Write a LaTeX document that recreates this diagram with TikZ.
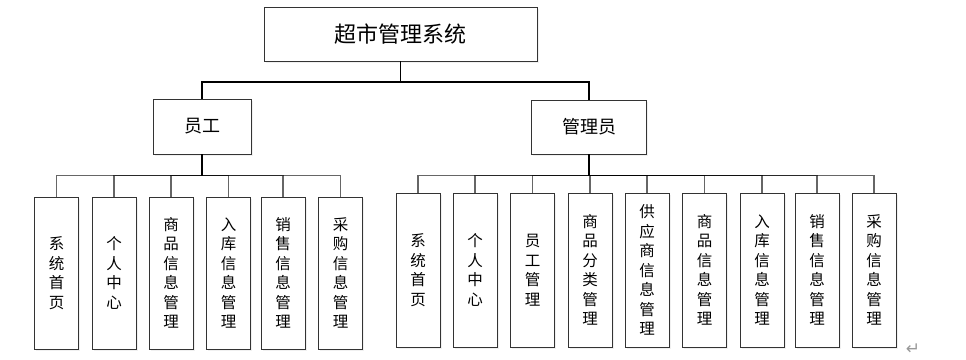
\documentclass[tikz,border=0pt]{standalone}
\usepackage{fontspec}
\setmainfont{Noto Sans CJK SC}
\newfontfamily\symf{DejaVu Sans}
\usetikzlibrary{shadows}
\begin{document}
\begin{tikzpicture}[x=1pt,y=-1pt,
  box/.style={draw=black!80, line width=0.8pt, fill=white, inner sep=0pt,
    drop shadow={opacity=0.12, shadow xshift=1.5pt, shadow yshift=-1.5pt}},
  mid/.style={box, font=\fontsize{18}{20}\selectfont},
  leafe/.style={box, minimum width=44pt, minimum height=152pt, align=center, font=\fontsize{15.5}{19.5}\selectfont},
  leafa/.style={box, minimum width=44pt, minimum height=154pt, align=center, font=\fontsize{15.5}{19.5}\selectfont},
  toplink/.style={draw=black, line width=1.6pt},
  sublink/.style={draw=black, draw opacity=0.6, line width=1.1pt}]
\useasboundingbox (0,0) rectangle (966,359);

% root and second level
\node[box, minimum width=273pt, minimum height=54pt, font=\fontsize{22}{24}\selectfont] (root) at (400.5,34) {超市管理系统};
\node[mid, minimum width=98pt, minimum height=55pt] (emp) at (202,126.5) {员工};
\node[mid, minimum width=115pt, minimum height=54pt] (adm) at (589,127) {管理员};

% employee leaves
\node[leafe] (e1) at (56.5,273) {系\\统\\首\\页};
\node[leafe] (e2) at (114,273) {个\\人\\中\\心};
\node[leafe] (e3) at (171,273) {商\\品\\信\\息\\管\\理};
\node[leafe] (e4) at (228.5,273) {入\\库\\信\\息\\管\\理};
\node[leafe] (e5) at (283,273) {销\\售\\信\\息\\管\\理};
\node[leafe] (e6) at (340.5,273) {采\\购\\信\\息\\管\\理};

% admin leaves
\node[leafa] (a1) at (418,270) {系\\统\\首\\页};
\node[leafa] (a2) at (475,270) {个\\人\\中\\心};
\node[leafa] (a3) at (532.5,270) {员\\工\\管\\理};
\node[leafa] (a4) at (590,270) {商\\品\\分\\类\\管\\理};
\node[leafa] (a5) at (647,270) {供\\应\\商\\信\\息\\管\\理};
\node[leafa] (a6) at (704.5,270) {商\\品\\信\\息\\管\\理};
\node[leafa] (a7) at (762,270) {入\\库\\信\\息\\管\\理};
\node[leafa] (a8) at (817,270) {销\\售\\信\\息\\管\\理};
\node[leafa] (a9) at (874,270) {采\\购\\信\\息\\管\\理};

% connectors
\draw[toplink] (root.south) -- ++(0,20.5) -| (emp.north);
\draw[toplink] (root.south) -- ++(0,20.5) -| (adm.north);
\foreach \c in {e1,e2,e3,e4,e5,e6}
  \draw[sublink] (emp.south) -- ++(0,21) -| (\c.north);
\foreach \c in {a1,a2,a3,a4,a5,a6,a7,a8,a9}
  \draw[sublink] (adm.south) -- ++(0,21) -| (\c.north);

% paragraph mark
\node[text=black!40, inner sep=0pt, font=\symf\fontsize{17}{17}\selectfont] (pm) at (913,349) {↵};
\end{tikzpicture}
\end{document}
